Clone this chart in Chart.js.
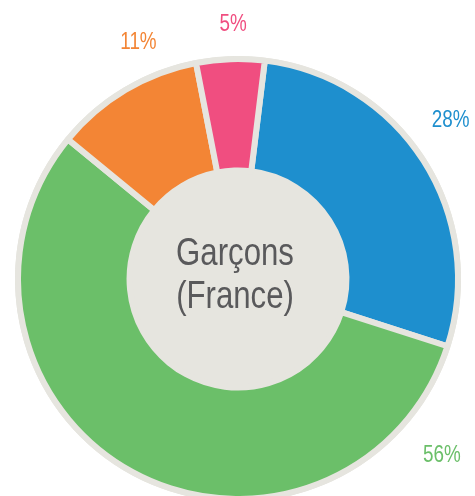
<!DOCTYPE html>
<html>
<head>
<meta charset="utf-8">
<script src="https://cdn.jsdelivr.net/npm/chart.js@4.4.4/dist/chart.umd.min.js"></script>
<style>
    html, body { margin: 0; padding: 0; background: #ffffff; overflow: hidden; }
    #wrap { position: relative; width: 475px; height: 496px; }
</style>
</head>
<body>
<div id="wrap"><canvas id="chart"></canvas></div>
<script>
// slices, clockwise from just right of the top
const categories = ['Bleu', 'Vert', 'Orange', 'Rose'];
const shares = [28, 56, 11, 5];
const valueLabels = ['28%', '56%', '11%', '5%'];
const centerLines = ['Garçons', '(France)'];

const sliceColors = ['#1e8fce', '#6bbf69', '#f38535', '#f04e80'];
const ringGray = '#e6e5df';
const textGray = '#59595b';
const textFont = '"Liberation Sans", Arial, sans-serif';
const squeeze = 0.82; // no narrow face installed, so condense the regular one

// where each percentage sits: fraction along its arc, distance past the outer edge
const labelPlacement = [[0.46, 45], [0.115, 50], [0.70, 36], [0.55, 34]];

function narrowText(ctx, text, x, y) {
    ctx.save();
    ctx.translate(x, y);
    ctx.scale(squeeze, 1);
    ctx.fillText(text, 0, 0);
    ctx.restore();
}

const backdrop = {
    id: 'backdrop',
    beforeDatasetsDraw(chart) {
        const arc = chart.getDatasetMeta(0).data[0];
        if (!arc) return;
        const { x, y, outerRadius } = arc.getProps(['x', 'y', 'outerRadius'], true);
        const ctx = chart.ctx;
        ctx.save();
        ctx.fillStyle = ringGray;
        ctx.beginPath();
        ctx.arc(x, y, outerRadius + 3, 0, Math.PI * 2);
        ctx.fill();
        ctx.restore();
    },
    afterDatasetsDraw(chart) {
        const meta = chart.getDatasetMeta(0);
        const ctx = chart.ctx;
        const { x, y } = meta.data[0].getProps(['x', 'y'], true);
        ctx.save();
        ctx.textAlign = 'center';
        ctx.textBaseline = 'alphabetic';

        ctx.fillStyle = textGray;
        ctx.font = '38px ' + textFont;
        narrowText(ctx, centerLines[0], x - 3, y - 14);
        narrowText(ctx, centerLines[1], x - 3, y + 29);

        ctx.font = '23px ' + textFont;
        ctx.textBaseline = 'middle';
        meta.data.forEach((el, i) => {
            const p = el.getProps(['startAngle', 'endAngle', 'outerRadius'], true);
            const [frac, dist] = labelPlacement[i];
            const a = p.startAngle + (p.endAngle - p.startAngle) * frac;
            const r = p.outerRadius + dist;
            ctx.fillStyle = sliceColors[i];
            narrowText(ctx, valueLabels[i], x + Math.cos(a) * r, y + Math.sin(a) * r);
        });
        ctx.restore();
    }
};

new Chart(document.getElementById('chart'), {
    type: 'doughnut',
    data: {
        labels: categories,
        datasets: [{
            data: shares,
            backgroundColor: sliceColors,
            borderColor: ringGray,
            borderWidth: 6,
            radius: 220,
            cutout: '49.3%',
            rotation: 7
        }]
    },
    options: {
        responsive: true,
        maintainAspectRatio: false,
        animation: false,
        layout: { padding: { top: 62, bottom: 0, left: 1, right: 0 } },
        plugins: {
            legend: { display: false },
            tooltip: { enabled: false }
        }
    },
    plugins: [backdrop]
});
</script>
</body>
</html>
